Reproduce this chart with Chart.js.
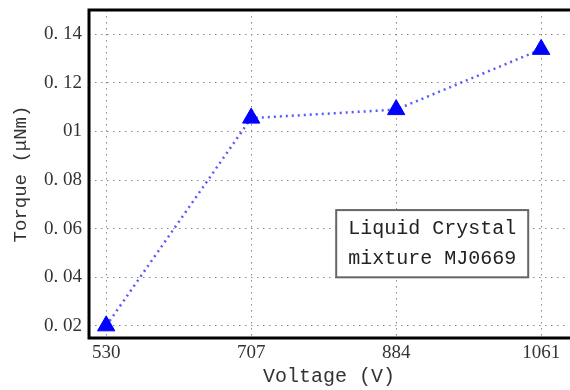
<!DOCTYPE html>
<html>
<head>
<meta charset="utf-8">
<script src="https://cdn.jsdelivr.net/npm/chart.js@4/dist/chart.umd.min.js"></script>
<style>
  html, body { margin: 0; padding: 0; background: #fff; overflow: hidden; }
  #wrap { width: 570px; height: 390px; }
</style>
</head>
<body>
<div id="wrap"><canvas id="grafico" width="570" height="390"></canvas></div>
<script>
// datos
const voltage = [530, 707, 884, 1061];
const torque = [0.020, 0.1055, 0.109, 0.1338];
const yTickValues = [0.02, 0.04, 0.06, 0.08, 0.10, 0.12, 0.14];
const yTickLabels = ['0. 02', '0. 04', '0. 06', '0. 08', '01', '0. 12', '0. 14'];
const noteLines = ['Liquid Crystal', 'mixture MJ0669'];

const serif = '"Liberation Serif", "DejaVu Serif", serif';
const mono = '"Liberation Mono", "DejaVu Sans Mono", monospace';

// marco negro (izq, arriba, abajo) y cuadro de texto
const frame = {
  id: 'frame',
  afterDraw(chart) {
    const { ctx, chartArea: a } = chart;
    ctx.save();
    ctx.strokeStyle = '#000';
    ctx.lineWidth = 3;
    ctx.beginPath();
    ctx.moveTo(a.right + 2, a.top);
    ctx.lineTo(a.left, a.top);
    ctx.lineTo(a.left, a.bottom);
    ctx.lineTo(a.right + 2, a.bottom);
    ctx.stroke();

    // cuadro de la leyenda
    const w = a.right - a.left, h = a.bottom - a.top;
    const bx = a.left + w * 0.515, by = a.top + h * 0.61;
    const bw = w * 0.40, bh = h * 0.205;
    ctx.fillStyle = '#fff';
    ctx.fillRect(bx, by, bw, bh);
    ctx.strokeStyle = '#666';
    ctx.lineWidth = 2;
    ctx.strokeRect(bx, by, bw, bh);
    ctx.fillStyle = '#222';
    ctx.font = '20px ' + mono;
    ctx.textAlign = 'center';
    ctx.textBaseline = 'middle';
    ctx.fillText(noteLines[0], bx + bw / 2, by + bh * 0.27);
    ctx.fillText(noteLines[1], bx + bw / 2, by + bh * 0.73);
    ctx.restore();
  }
};

const ctx = document.getElementById('grafico').getContext('2d');
new Chart(ctx, {
  type: 'line',
  data: {
    datasets: [{
      data: voltage.map((v, i) => ({ x: v, y: torque[i] })),
      borderColor: 'rgba(70, 70, 255, 0.9)',
      borderWidth: 2.5,
      borderDash: [2, 4],
      pointStyle: 'triangle',
      pointRadius: 10,
      pointBackgroundColor: '#0000ff',
      pointBorderColor: '#0000ff',
      pointBorderWidth: 1,
      tension: 0,
      clip: false
    }]
  },
  options: {
    responsive: false,
    animation: false,
    layout: { autoPadding: false, padding: { left: 0, right: 1, top: 10, bottom: 0 } },
    plugins: { legend: { display: false }, tooltip: { enabled: false } },
    scales: {
      x: {
        type: 'linear',
        min: 509,
        max: 1095,
        afterBuildTicks: s => { s.ticks = voltage.map(v => ({ value: v })); },
        afterFit: s => { s.height = 52; s.paddingLeft = 0; s.paddingRight = 0; },
        grid: { color: '#888', lineWidth: 1, drawTicks: false },
        border: { display: false, dash: [1.5, 4.5] },
        ticks: {
          color: '#333', padding: 4, font: { family: serif, size: 19 }, maxRotation: 0,
          callback: v => String(v)
        },
        title: {
          display: true, text: 'Voltage (V)', color: '#333',
          font: { family: mono, size: 20 }, padding: { top: 0, bottom: 1 }
        }
      },
      y: {
        min: 0.015,
        max: 0.15,
        afterBuildTicks: s => { s.ticks = yTickValues.map(v => ({ value: v })); },
        afterFit: s => { s.width = 89; s.paddingTop = 0; s.paddingBottom = 0; },
        grid: { color: '#888', lineWidth: 1, drawTicks: false },
        border: { display: false, dash: [1.5, 4.5] },
        ticks: {
          color: '#333', padding: 7, font: { family: serif, size: 19 },
          callback: (v, i) => yTickLabels[i]
        },
        title: {
          display: true, text: 'Torque (μNm)', color: '#333',
          font: { family: mono, size: 19 }, padding: { top: 10, bottom: 10 }
        }
      }
    }
  },
  plugins: [frame]
});
</script>
</body>
</html>
